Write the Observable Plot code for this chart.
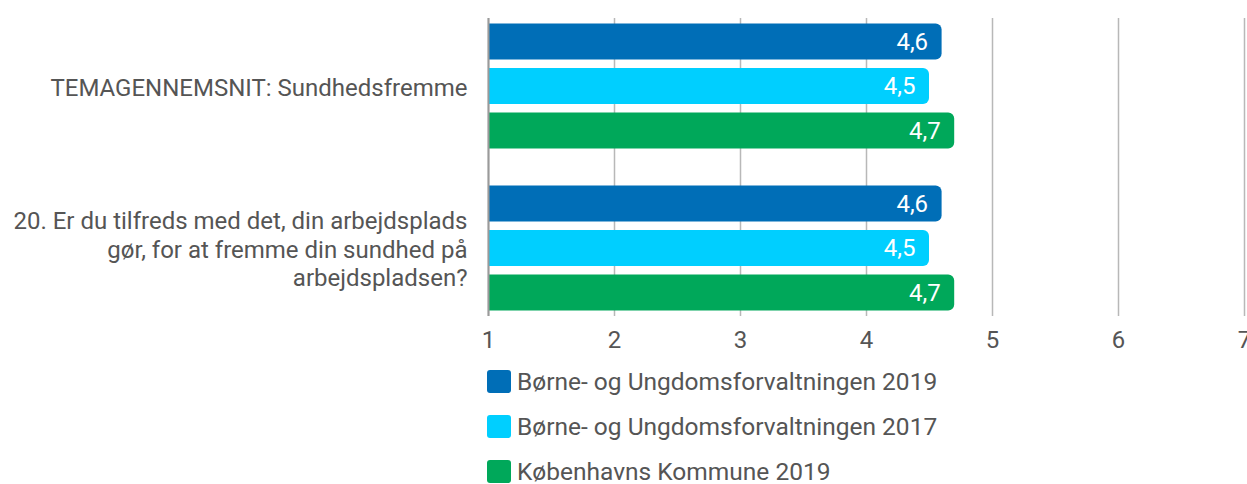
<!DOCTYPE html>
<html>
<head>
<meta charset="utf-8">
<script src="https://cdn.jsdelivr.net/npm/d3@7"></script>
<script src="https://cdn.jsdelivr.net/npm/@observablehq/plot@0.6"></script>
<style>
  html, body { margin: 0; padding: 0; background: #fff; overflow: hidden; }
  #wrap { position: relative; width: 1247px; height: 484px; font-family: Roboto, sans-serif; }
  #legend { position: absolute; left: 487px; top: 359px; }
  .row { display: flex; align-items: center; height: 45px; font-size: 24.5px; color: #555; }
  .sw { width: 24px; height: 23px; border-radius: 3px; margin-right: 6px; }
</style>
</head>
<body>
<div id="wrap"><div id="chart"></div><div id="legend"></div></div>
<script>
const questions = [
  "TEMAGENNEMSNIT: Sundhedsfremme",
  "20. Er du tilfreds med det, din arbejdsplads\ngør, for at fremme din sundhed på\narbejdspladsen?"
];
const series = [
  "Børne- og Ungdomsforvaltningen 2019",
  "Børne- og Ungdomsforvaltningen 2017",
  "Københavns Kommune 2019"
];
const colors = ["#006EB7", "#00CFFF", "#00A85A"];
const buf2019 = [4.6, 4.6];
const buf2017 = [4.5, 4.5];
const kk2019 = [4.7, 4.7];
const xTicks = [1, 2, 3, 4, 5, 6, 7];
const baseline = 1;

const values = [buf2019, buf2017, kk2019];
const data = questions.flatMap((q, i) => series.map((s, j) => ({question: q, series: s, value: values[j][i]})));
const offsets = [-44.5, 0, 44.5];

const marks = [
  Plot.gridX(xTicks, {stroke: "#b8b8b8", strokeOpacity: 1, strokeWidth: 1.5})
];
series.forEach((s, j) => {
  const d = data.filter(r => r.series === s);
  marks.push(Plot.barX(d, {x1: () => baseline, x2: "value", y: "question", fill: colors[j], dy: offsets[j], insetTop: 2, insetBottom: 2, rx2: 6}));
});
marks.push(Plot.ruleX([baseline], {stroke: "#9a9a9a", strokeWidth: 2}));
series.forEach((s, j) => {
  const d = data.filter(r => r.series === s);
  marks.push(Plot.text(d, {x: "value", y: "question", dy: offsets[j], dx: -14, text: r => r.value.toFixed(1).replace(".", ","), textAnchor: "end", fill: "white", fontSize: 24}));
});
marks.push(Plot.axisY({tickSize: 0, tickPadding: 21, fontSize: 24, lineHeight: 1.17, label: null, fill: "#555"}));
marks.push(Plot.axisX({ticks: xTicks, tickSize: 0, tickPadding: 14, fontSize: 24, label: null, fill: "#555", tickFormat: d => String(d)}));

const chart = Plot.plot({
  width: 1247,
  height: 359,
  marginLeft: 488,
  marginRight: 3,
  marginTop: 18,
  marginBottom: 43,
  style: {fontFamily: "Roboto, sans-serif", fontSize: "24px", color: "#555", background: "white"},
  x: {domain: [1, 7]},
  y: {domain: questions, paddingInner: 0.755, paddingOuter: 0.292},
  marks
});
document.getElementById("chart").appendChild(chart);

const legend = document.getElementById("legend");
series.forEach((s, j) => {
  const row = document.createElement("div");
  row.className = "row";
  const sw = document.createElement("div");
  sw.className = "sw";
  sw.style.background = colors[j];
  const t = document.createElement("span");
  t.textContent = s;
  row.appendChild(sw);
  row.appendChild(t);
  legend.appendChild(row);
});
</script>
</body>
</html>
